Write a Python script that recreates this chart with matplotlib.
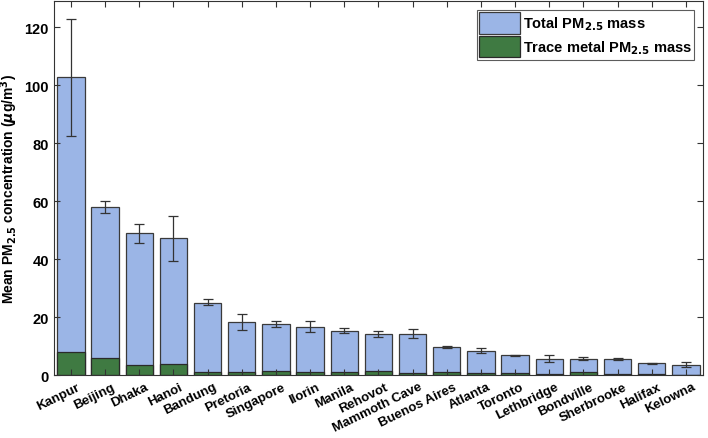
import matplotlib.pyplot as plt
import matplotlib.transforms as mtransforms
import numpy as np

plt.rcParams['font.family'] = ['Liberation Sans', 'DejaVu Sans']
plt.rcParams['font.weight'] = 'bold'
plt.rcParams['mathtext.fontset'] = 'dejavusans'
plt.rcParams['mathtext.default'] = 'bf'

sites = ['Kanpur', 'Beijing', 'Dhaka', 'Hanoi', 'Bandung', 'Pretoria', 'Singapore',
         'Ilorin', 'Manila', 'Rehovot', 'Mammoth Cave', 'Buenos Aires', 'Atlanta',
         'Toronto', 'Lethbridge', 'Bondville', 'Sherbrooke', 'Halifax', 'Kelowna']
total = [102.7, 58.0, 48.9, 47.2, 25.0, 18.4, 17.6, 16.6, 15.3, 14.2, 14.2, 9.6,
         8.4, 6.8, 5.6, 5.65, 5.65, 4.0, 3.5]
err_hi = [122.8, 60.2, 52.2, 54.7, 26.1, 21.0, 18.6, 18.6, 16.2, 15.1, 15.8, 9.9,
          9.2, 7.0, 6.8, 6.3, 6.0, 4.3, 4.4]
err_lo = [82.6, 55.8, 45.7, 39.5, 24.2, 15.6, 16.4, 14.7, 14.6, 13.2, 12.6, 9.2,
          7.6, 6.5, 4.5, 5.1, 5.3, 3.8, 2.6]
metal = [7.9, 5.8, 3.5, 3.95, 1.15, 0.9, 1.4, 0.9, 1.15, 1.4, 0.7, 1.15,
         0.8, 0.8, 0.25, 1.15, 0.3, 0.2, 0.15]

x = np.arange(1, len(sites) + 1)
total = np.array(total)
yerr = [total - np.array(err_lo), np.array(err_hi) - total]

fig = plt.figure(figsize=(7.08, 4.39), dpi=100)
ax = fig.add_axes([0.076, 0.1435, 0.917, 0.8515])

ax.bar(x, total, width=0.8, color='#9bb5e6', edgecolor='#3a3a3a', linewidth=0.9,
       label='Total PM$_{2.5}$ mass')
ax.bar(x, metal, width=0.8, color='#3f7a42', edgecolor='#2a2a2a', linewidth=0.9,
       label='Trace metal PM$_{2.5}$ mass')
ax.errorbar(x, total, yerr=yerr, fmt='none', ecolor='#333333', elinewidth=0.9,
            capsize=3.5, capthick=0.9)

ax.set_xlim(0.5, 19.5)
ax.set_ylim(0, 129)
ax.set_yticks([0, 20, 40, 60, 80, 100, 120])
ax.set_xticks(x)
ax.set_xticklabels(sites, rotation=26, ha='right', rotation_mode='anchor')
ax.tick_params(axis='both', direction='in', top=True, right=True, length=4,
               width=0.8, color='#333333', labelsize=10.5)
ax.tick_params(axis='x', pad=4, labelsize=9.5)
shift = mtransforms.ScaledTranslation(6 / 100, 0, fig.dpi_scale_trans)
for lab in ax.get_xticklabels():
    lab.set_transform(lab.get_transform() + shift)
for s in ax.spines.values():
    s.set_color('#333333')
    s.set_linewidth(0.8)

ax.set_ylabel('Mean PM$_{2.5}$ concentration ($\\mathit{\\mu}$g/m$^3$)', fontsize=10,
              fontweight='bold', labelpad=3)

leg = ax.legend(loc='upper right', fontsize=10.5, fancybox=False, edgecolor='#333333',
                handlelength=2.8, handleheight=1.9, borderaxespad=0.6,
                handletextpad=0.2, labelspacing=0.15, borderpad=0.15)
leg.get_frame().set_linewidth(0.8)

fig.savefig('out.png', dpi=100)
